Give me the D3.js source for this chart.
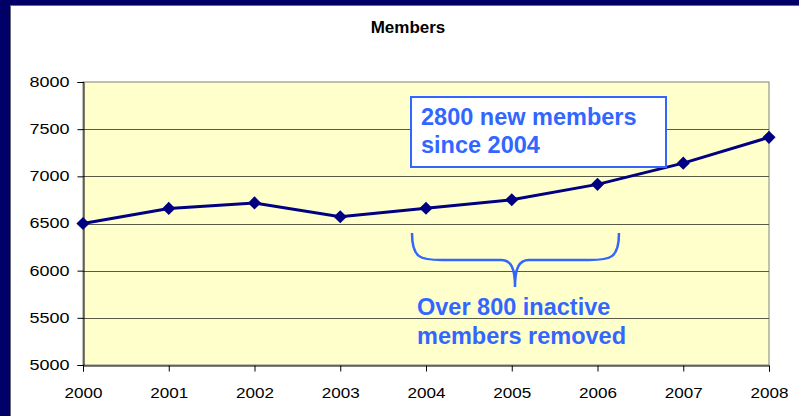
<!DOCTYPE html>
<html>
<head>
<meta charset="utf-8">
<script src="https://cdn.jsdelivr.net/npm/d3@7"></script>
<style>
  body { margin: 0; background: #000066; }
  svg { display: block; }
</style>
</head>
<body>
<svg width="799" height="416"></svg>
<script>
  // data
  var years = ['2000', '2001', '2002', '2003', '2004', '2005', '2006', '2007', '2008'];
  var members = [6500, 6660, 6718, 6572, 6662, 6752, 6915, 7140, 7413];
  var yTicks = [5000, 5500, 6000, 6500, 7000, 7500, 8000];
  var noteTop = ['2800 new members', 'since 2004'];
  var noteBottom = ['Over 800 inactive', 'members removed'];

  var svg = d3.select('svg');
  var font = 'Liberation Sans, Arial, sans-serif';

  // navy backdrop + white slide panel
  svg.append('rect').attr('width', 799).attr('height', 416).attr('fill', '#000066');
  svg.append('rect').attr('x', 10.5).attr('y', 5.5).attr('width', 800).attr('height', 420)
    .attr('fill', '#fff').attr('stroke', '#6a6a7a').attr('stroke-width', 1);

  var pL = 83, pR = 769, pT = 82, pB = 365;

  var x = d3.scalePoint().domain(years).range([pL, pR]);
  var y = d3.scaleLinear().domain([5000, 8000]).range([pB, pT]);

  svg.append('rect').attr('x', pL).attr('y', pT).attr('width', pR - pL).attr('height', pB - pT)
    .attr('fill', '#ffffcc').attr('stroke', '#808080').attr('stroke-width', 1);

  // gridlines
  svg.append('g').selectAll('line').data(yTicks.slice(1, -1)).enter().append('line')
    .attr('x1', pL).attr('x2', pR)
    .attr('y1', function(d){ return Math.round(y(d)) + 0.5; })
    .attr('y2', function(d){ return Math.round(y(d)) + 0.5; })
    .attr('stroke', '#5a5a4a').attr('stroke-width', 1);

  // axes
  var yAxis = svg.append('g').attr('transform', 'translate(' + (pL + 0.5) + ',0)')
    .call(d3.axisLeft(y).tickValues(yTicks).tickSize(6).tickPadding(8).tickFormat(d3.format('d')));
  var xAxis = svg.append('g').attr('transform', 'translate(0,' + (pB + 0.5) + ')')
    .call(d3.axisBottom(x).tickSize(6).tickPadding(16));
  [yAxis, xAxis].forEach(function(a){
    a.select('.domain').attr('stroke', '#000');
    a.selectAll('.tick line').attr('stroke', '#000');
    a.selectAll('text').attr('font-family', font).attr('fill', '#000')
      .attr('lengthAdjust', 'spacingAndGlyphs');
  });
  yAxis.selectAll('text').attr('font-size', 14).attr('textLength', 40);
  xAxis.selectAll('text').attr('font-size', 15).attr('textLength', 38);

  // title
  svg.append('text').attr('x', 408).attr('y', 33).attr('text-anchor', 'middle')
    .attr('font-family', font).attr('font-size', 17).attr('font-weight', 'bold')
    .text('Members');

  // series
  var line = d3.line().x(function(d, i){ return x(years[i]); }).y(function(d){ return y(d); });
  svg.append('path').datum(members).attr('d', line).attr('fill', 'none')
    .attr('stroke', '#000080').attr('stroke-width', 3);
  svg.append('g').selectAll('path').data(members).enter().append('path')
    .attr('d', d3.symbol().type(d3.symbolDiamond2).size(110))
    .attr('transform', function(d, i){ return 'translate(' + x(years[i]) + ',' + y(d) + ')'; })
    .attr('fill', '#000080');

  // callout box
  var blue = '#3366ff';
  svg.append('rect').attr('x', 411).attr('y', 97).attr('width', 255).attr('height', 70)
    .attr('fill', '#fff').attr('stroke', blue).attr('stroke-width', 2);
  svg.append('g').selectAll('text').data(noteTop).enter().append('text')
    .attr('x', 421).attr('y', function(d, i){ return 125 + i * 28; })
    .attr('font-family', font).attr('font-size', 23.5).attr('font-weight', 'bold')
    .attr('fill', blue).text(function(d){ return d; });

  // brace under 2004-2006
  var bx0 = 412, bx1 = 619, bm = 515, byTop = 233, byMid = 260, byTip = 287;
  var brace = 'M' + bx0 + ',' + byTop +
    ' C' + bx0 + ',' + (byMid - 2) + ' ' + (bx0 + 8) + ',' + byMid + ' ' + (bx0 + 30) + ',' + byMid +
    ' L' + (bm - 14) + ',' + byMid +
    ' C' + (bm - 4) + ',' + byMid + ' ' + bm + ',' + (byMid + 8) + ' ' + bm + ',' + byTip +
    ' C' + bm + ',' + (byMid + 8) + ' ' + (bm + 4) + ',' + byMid + ' ' + (bm + 14) + ',' + byMid +
    ' L' + (bx1 - 30) + ',' + byMid +
    ' C' + (bx1 - 8) + ',' + byMid + ' ' + bx1 + ',' + (byMid - 2) + ' ' + bx1 + ',' + byTop;
  svg.append('path').attr('d', brace).attr('fill', 'none').attr('stroke', blue).attr('stroke-width', 2.5);

  svg.append('g').selectAll('text').data(noteBottom).enter().append('text')
    .attr('x', 417).attr('y', function(d, i){ return 315 + i * 29; })
    .attr('font-family', font).attr('font-size', 23.5).attr('font-weight', 'bold')
    .attr('fill', blue).text(function(d){ return d; });
</script>
</body>
</html>
